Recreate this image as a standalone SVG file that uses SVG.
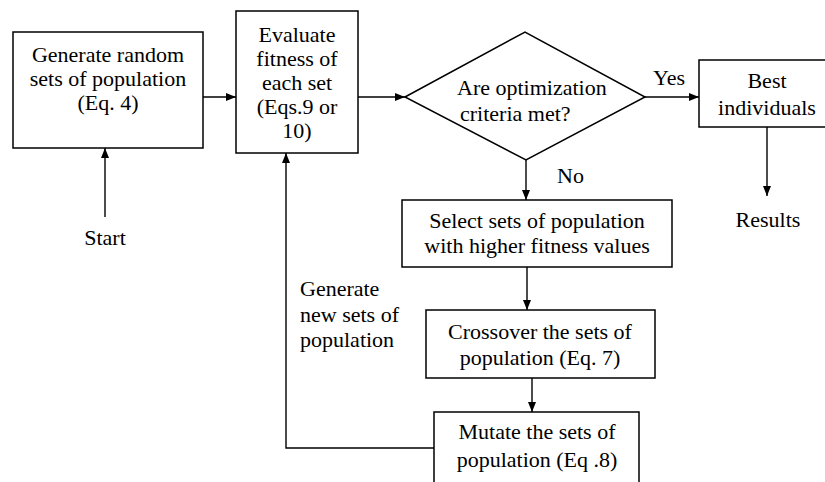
<svg xmlns="http://www.w3.org/2000/svg" width="825" height="482" viewBox="0 0 825 482">
<defs>
<marker id="ah" viewBox="0 0 10 8" refX="10" refY="4" markerWidth="10" markerHeight="8" markerUnits="userSpaceOnUse" orient="auto">
<path d="M0,0 L10,4 L0,8 Z" fill="#000"/>
</marker>
<style>
.box{fill:#fff;stroke:#000;stroke-width:1.5}
text{font-family:'Liberation Serif','Tinos','Times New Roman','DejaVu Serif',serif;font-size:22px;fill:#000}
.t{text-anchor:middle}
.c{fill:none;stroke:#000;stroke-width:1.4;marker-end:url(#ah)}
</style>
</defs>
<rect width="825" height="482" fill="#fff"/>
<g id="connectors">
<line class="c" x1="203" y1="97" x2="236" y2="97"/>
<line class="c" x1="358" y1="97" x2="405" y2="97"/>
<line class="c" x1="645" y1="97" x2="699" y2="97"/>
<line class="c" x1="105" y1="217" x2="105" y2="148"/>
<line class="c" x1="767" y1="127" x2="767" y2="196"/>
<line class="c" x1="526" y1="160" x2="526" y2="200"/>
<line class="c" x1="527" y1="267" x2="527" y2="310"/>
<line class="c" x1="532" y1="378" x2="532" y2="412"/>
<polyline class="c" points="434,448 286,448 286,153"/>
<text x="653" y="85" font-family="Liberation Serif, serif">Yes</text>
<text x="557" y="183" font-family="Liberation Serif, serif">No</text>
<text x="300" y="296" font-family="Liberation Serif, serif">Generate</text>
<text x="300" y="322" font-family="Liberation Serif, serif">new sets of</text>
<text x="300" y="347" font-family="Liberation Serif, serif">population</text>
</g>
<g id="start">
<text class="t" x="105" y="245">Start</text>
</g>
<g id="generate">
<rect class="box" x="13" y="32" width="190" height="116"/>
<text class="t" x="108" y="62">Generate random</text>
<text class="t" x="108" y="86">sets of population</text>
<text class="t" x="108" y="110">(Eq. 4)</text>
</g>
<g id="evaluate">
<rect class="box" x="236" y="11" width="122" height="142"/>
<text class="t" x="297" y="42">Evaluate</text>
<text class="t" x="297" y="66">fitness of</text>
<text class="t" x="297" y="90">each set</text>
<text class="t" x="297" y="114">(Eqs.9 or</text>
<text class="t" x="297" y="138">10)</text>
</g>
<g id="decision">
<polygon class="box" points="405,97 525,32 645,97 526,160"/>
<text x="457" y="95">Are optimization</text>
<text x="460" y="121">criteria met?</text>
</g>
<g id="best">
<rect class="box" x="699" y="60" width="135" height="67"/>
<text class="t" x="767" y="88">Best</text>
<text class="t" x="767" y="115">individuals</text>
</g>
<g id="results">
<text class="t" x="768" y="227">Results</text>
</g>
<g id="select">
<rect class="box" x="402" y="200" width="270" height="67"/>
<text class="t" x="537" y="228">Select sets of population</text>
<text class="t" x="537" y="253">with higher fitness values</text>
</g>
<g id="crossover">
<rect class="box" x="426" y="310" width="229" height="68"/>
<text class="t" x="540" y="339">Crossover the sets of</text>
<text class="t" x="540" y="365">population (Eq. 7)</text>
</g>
<g id="mutate">
<rect class="box" x="434" y="412" width="205" height="90"/>
<text class="t" x="537" y="439">Mutate the sets of</text>
<text class="t" x="537" y="467">population (Eq .8)</text>
</g>
</svg>
